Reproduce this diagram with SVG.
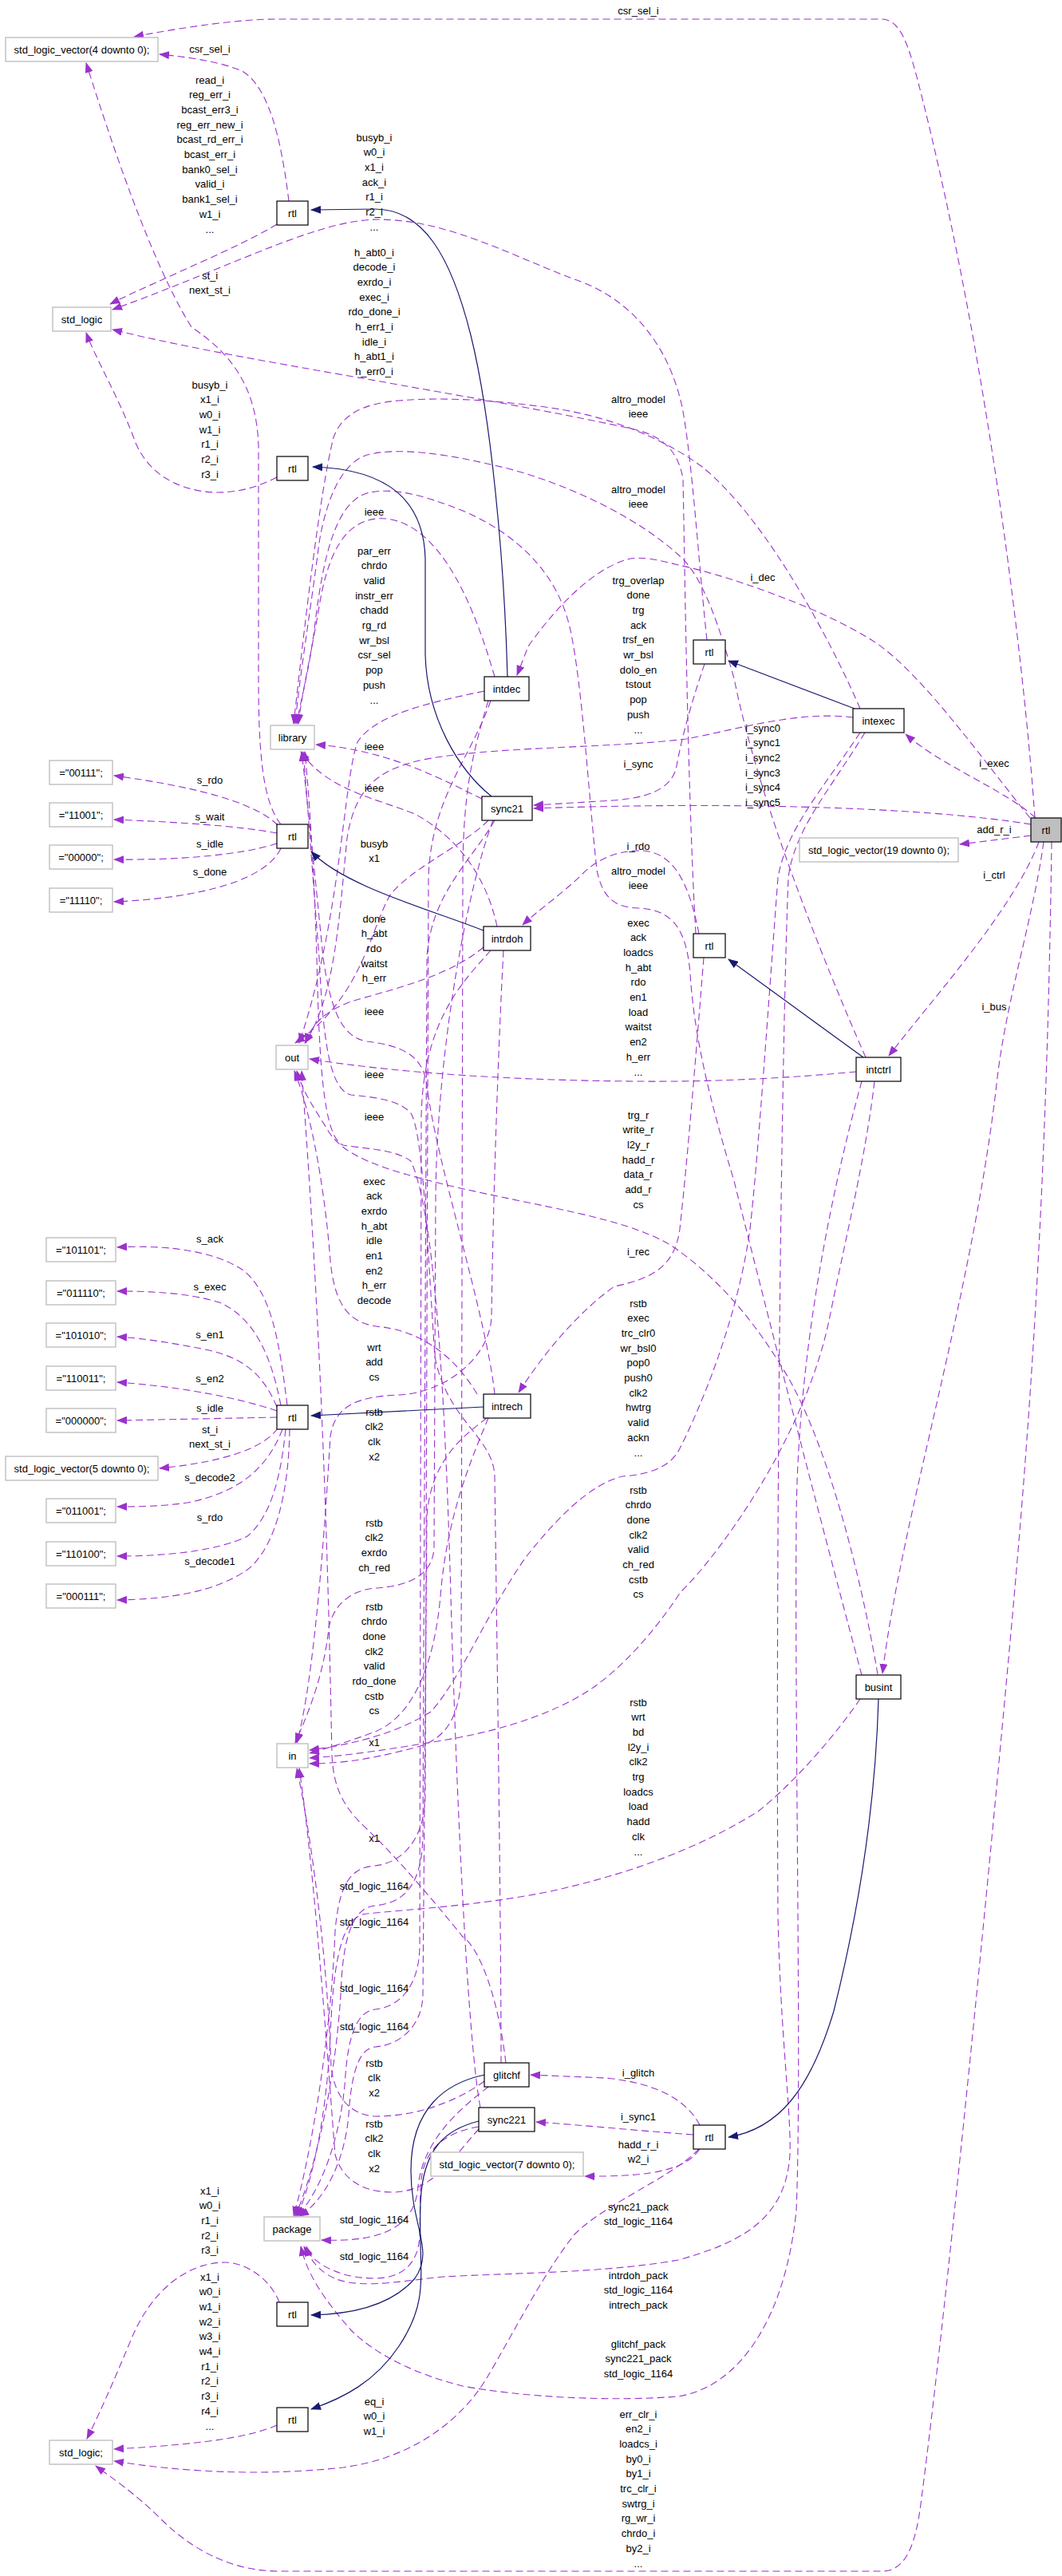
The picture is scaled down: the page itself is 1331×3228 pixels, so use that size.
<svg xmlns="http://www.w3.org/2000/svg" width="1331" height="3228" viewBox="0 0 1331 3228">
<style>
.n rect{fill:#fff;stroke:#000;stroke-width:1.2}
.t rect{fill:#fff;stroke:#bfbfbf;stroke-width:1.4}
.m rect{fill:#bfbfbf;stroke:#000;stroke-width:1.2}
text{font-family:"Liberation Sans",Arial,sans-serif;font-size:13px;fill:#000;text-anchor:middle}
.d{fill:none;stroke:#9a32cd;stroke-width:1.1;stroke-dasharray:9,5;marker-end:url(#ap)}
.b{fill:none;stroke:#191970;stroke-width:1.2;marker-end:url(#ab)}
</style>
<defs>
<marker id="ap" markerUnits="userSpaceOnUse" markerWidth="13" markerHeight="10" viewBox="0 0 13 10" refX="12" refY="5" orient="auto"><path d="M0,0 L13,5 L0,10 z" fill="#9a32cd"/></marker>
<marker id="ab" markerUnits="userSpaceOnUse" markerWidth="13" markerHeight="10" viewBox="0 0 13 10" refX="12" refY="5" orient="auto"><path d="M0,0 L13,5 L0,10 z" fill="#191970"/></marker>
</defs>
<rect x="0" y="0" width="1331" height="3228" fill="#fff"/>
<g id="edges">
<path class="d" d="M1297,1025 C1285,850 1240,450 1150,100 C1138,55 1128,24 1105,24 L345,24 C300,24 230,34 168,46"/>
<path class="d" d="M362,252 C352,170 336,110 305,90 C280,78 240,72 200,68"/>
<path class="d" d="M347,281 C300,310 200,350 138,381"/>
<path class="d" d="M886,802 C875,700 868,580 855,510 C835,420 780,370 720,350 C640,320 560,275 474,275 C400,275 300,330 141,388"/>
<path class="d" d="M872,1170 C862,1000 858,700 856,600 C850,565 830,545 790,537 C700,517 600,500 510,484 C400,464 250,440 141,413"/>
<path class="d" d="M347,598 C320,612 290,620 256,616 C215,610 185,590 170,555 C150,500 120,450 108,417"/>
<path class="d" d="M352,1033 C330,1005 324,950 324,850 L324,560 C322,480 285,440 240,410 C190,330 140,180 108,79"/>
<path class="d" d="M348,1034 C320,1005 240,985 143,972"/>
<path class="d" d="M347,1044 C300,1035 220,1030 143,1027"/>
<path class="d" d="M347,1057 C300,1072 220,1078 143,1077"/>
<path class="d" d="M352,1063 C335,1100 260,1125 143,1130"/>
<path class="d" d="M360,1761 C350,1680 340,1620 305,1592 C265,1565 200,1560 147,1563"/>
<path class="d" d="M352,1761 C340,1700 320,1652 275,1632 C235,1620 190,1618 147,1618"/>
<path class="d" d="M347,1763 C330,1722 305,1702 262,1692 C222,1684 182,1677 147,1675"/>
<path class="d" d="M347,1768 C300,1752 230,1738 147,1732"/>
<path class="d" d="M347,1776 L147,1780"/>
<path class="d" d="M348,1790 C330,1815 280,1832 200,1840"/>
<path class="d" d="M354,1791 C335,1840 300,1870 235,1883 C200,1888 170,1888 147,1888"/>
<path class="d" d="M358,1791 C352,1850 340,1900 310,1925 C270,1945 200,1950 147,1950"/>
<path class="d" d="M363,1791 C362,1870 345,1940 310,1967 C270,1995 210,2004 147,2005"/>
<path class="d" d="M350,2885 C340,2858 310,2835 282,2835 C235,2835 190,2870 165,2930 C140,2990 122,3030 109,3056"/>
<path class="d" d="M347,3039 C310,3055 250,3063 143,3069"/>
<path class="d" d="M876,2693 C840,2730 760,2760 720,2800 C680,2850 640,2930 610,2980 C580,3030 520,3080 430,3092 C330,3103 230,3098 143,3084"/>
<path class="d" d="M877,2693 C860,2718 820,2728 733,2727"/>
<path class="d" d="M877,2663 C860,2630 820,2610 760,2604 L665,2600"/>
<path class="d" d="M869,2675 C800,2670 730,2663 672,2659"/>
<path class="d" d="M883,832 C870,870 855,920 848,960 C842,990 810,1000 768,1003 L669,1009"/>
<path class="d" d="M876,1170 C866,1120 850,1068 805,1066 C770,1065 745,1080 730,1095 C705,1120 675,1140 655,1159"/>
<path class="d" d="M882,1200 C874,1300 862,1450 852,1540 C846,1585 820,1602 770,1612 C730,1640 685,1690 650,1745"/>
<path class="d" d="M1291,1025 C1230,950 1160,850 1100,807 C1030,760 900,718 850,708 C820,700 805,698 790,700 C740,712 690,770 662,810 L648,846"/>
<path class="d" d="M1298,1025 C1260,990 1180,960 1135,920"/>
<path class="d" d="M1292,1033 C1150,1010 900,1005 669,1013"/>
<path class="d" d="M1292,1047 L1203,1058"/>
<path class="d" d="M1302,1055 C1270,1140 1170,1250 1114,1323"/>
<path class="d" d="M1308,1055 C1295,1150 1262,1250 1250,1350 C1220,1620 1130,1900 1106,2097"/>
<path class="d" d="M1318,1055 C1312,1500 1290,1800 1262,2100 C1230,2450 1185,2900 1155,3130 C1148,3190 1135,3222 1105,3222 L350,3222 C290,3222 240,3195 200,3155 C170,3125 140,3105 120,3090"/>
<path class="d" d="M1078,888 C1040,800 960,650 880,585 C830,548 760,520 683,510 C620,502 560,497 500,502 C450,506 428,522 418,548 C400,620 380,800 368,907"/>
<path class="d" d="M1085,1325 C1030,1200 950,1000 920,850 C900,780 880,720 850,695 C800,650 720,610 640,588 C560,568 500,560 460,570 C430,580 410,620 400,680 C390,760 375,850 370,907"/>
<path class="d" d="M1080,2099 C1040,1950 970,1680 920,1480 C890,1380 870,1300 865,1220 C860,1160 840,1140 800,1138 C770,1137 755,1125 748,1090 C738,1000 730,860 715,790 C700,720 650,670 580,640 C530,620 490,610 460,618 C420,630 405,700 395,780 C388,840 376,880 372,907"/>
<path class="d" d="M620,848 C600,780 560,660 485,650 C430,645 410,700 400,760 C390,820 378,870 374,907"/>
<path class="d" d="M604,1001 C560,980 490,940 396,933"/>
<path class="d" d="M623,1161 C610,1100 575,1050 520,1020 C470,1000 410,990 377,942"/>
<path class="d" d="M620,1747 C610,1650 545,1450 535,1360 C530,1320 500,1310 460,1305 C430,1300 415,1270 405,1200 C395,1100 385,1000 378,942"/>
<path class="d" d="M628,2585 C628,2400 622,2000 620,1850 C618,1800 560,1780 545,1700 C535,1550 530,1420 515,1395 C500,1378 470,1375 440,1372 C412,1365 405,1300 400,1200 C392,1100 385,1000 380,942"/>
<path class="d" d="M602,2641 C590,2580 575,2350 565,2000 C558,1750 545,1520 515,1455 C495,1440 460,1440 430,1435 C405,1425 400,1330 397,1200 C394,1100 388,1000 382,942"/>
<path class="d" d="M1069,899 C1000,890 920,915 860,926 C760,938 620,935 530,952 C470,965 445,990 435,1050 C425,1150 420,1250 382,1307"/>
<path class="d" d="M607,866 C540,880 470,895 448,930 C430,980 428,1150 375,1307"/>
<path class="d" d="M612,1028 C580,1060 520,1085 490,1120 C465,1160 455,1250 370,1307"/>
<path class="d" d="M606,1187 C560,1225 490,1240 440,1255 C405,1268 390,1285 383,1307"/>
<path class="d" d="M1073,1343 C1000,1350 900,1356 800,1355 C650,1354 500,1345 388,1327"/>
<path class="d" d="M1100,2098 C1080,1980 1040,1820 990,1730 C950,1660 900,1600 840,1560 C780,1525 680,1513 560,1485 C480,1465 430,1450 410,1415 C395,1390 380,1370 372,1342"/>
<path class="d" d="M598,1747 C570,1700 530,1670 480,1663 C440,1660 420,1640 414,1580 C408,1500 392,1400 369,1342"/>
<path class="d" d="M618,1028 C590,1100 548,1300 546,1500 L544,1940 C542,1975 510,1988 470,1990 C440,1993 418,2010 412,2040 C406,2100 385,2150 370,2184"/>
<path class="d" d="M1078,918 C1030,990 985,1040 975,1100 C960,1300 950,1450 940,1540 C925,1650 880,1760 852,1815 C840,1840 810,1848 780,1850 C740,1860 700,1900 660,1950 C610,2020 580,2100 540,2145 C500,2170 450,2185 388,2193"/>
<path class="d" d="M1096,1355 C1085,1450 1060,1550 1040,1650 C1010,1800 900,1950 853,1995 C820,2045 780,2090 740,2117 C690,2150 620,2170 560,2180 C500,2190 440,2200 388,2203"/>
<path class="d" d="M612,878 C590,950 580,1000 580,1100 L578,2100 C576,2150 560,2180 520,2190 C480,2200 440,2210 388,2210"/>
<path class="d" d="M631,1191 C625,1300 618,1500 616,1650 C614,1700 560,1745 500,1748 C450,1750 420,1760 414,1800 C408,1900 395,2100 372,2184"/>
<path class="d" d="M612,1777 C590,1830 560,1900 552,2000 C545,2080 520,2150 470,2170 C430,2185 405,2192 388,2197"/>
<path class="d" d="M607,2608 C570,2635 520,2652 470,2652 C440,2650 420,2630 415,2590 C410,2450 390,2300 372,2216"/>
<path class="d" d="M600,2668 C570,2700 545,2745 495,2747 C460,2748 430,2735 420,2700 C412,2600 395,2350 375,2216"/>
<path class="d" d="M634,2585 C624,2500 600,2440 580,2427 C550,2390 500,2330 461,2293 C430,2265 418,2240 416,2200 C412,2000 405,1700 378,1342"/>
<path class="d" d="M615,878 C590,950 540,1000 537,1100 L533,2250 C532,2310 500,2335 470,2338 C440,2340 425,2360 420,2420 C415,2550 390,2700 368,2777"/>
<path class="d" d="M620,1028 C590,1080 540,1120 535,1200 L530,2300 C529,2370 500,2385 470,2388 C445,2390 432,2420 428,2480 C423,2600 395,2720 370,2777"/>
<path class="d" d="M615,1191 C580,1230 530,1280 528,1400 L526,2440 C525,2490 500,2515 470,2518 C450,2520 437,2545 433,2600 C428,2680 400,2750 372,2777"/>
<path class="d" d="M610,1777 C580,1800 540,1830 535,1900 L530,2500 C529,2540 500,2563 470,2565 C452,2567 441,2590 437,2650 C432,2710 405,2760 375,2777"/>
<path class="d" d="M612,2615 C580,2640 530,2680 524,2740 C520,2790 480,2810 403,2807"/>
<path class="d" d="M600,2665 C560,2672 530,2690 527,2740 L526,2800 C525,2840 500,2855 470,2855 C430,2855 395,2840 381,2815"/>
<path class="d" d="M1084,918 C1040,990 995,1040 988,1100 C980,1300 972,1900 975,2400 C978,2550 992,2650 990,2700 C985,2780 930,2810 850,2832 C760,2848 650,2848 555,2853 C490,2860 440,2870 410,2850 C395,2840 388,2830 384,2815"/>
<path class="d" d="M1080,1355 C1040,1500 1000,1700 998,1900 C996,2200 1005,2600 998,2770 C985,2900 930,2990 850,3003 C760,3010 650,3003 580,2990 C520,2975 470,2950 440,2920 C405,2880 385,2850 377,2815"/>
<path class="d" d="M1078,2129 C1050,2170 1000,2230 950,2270 C870,2320 780,2350 690,2370 C600,2388 520,2392 460,2398 C430,2400 418,2450 414,2550 C410,2650 390,2740 372,2777"/>
<path class="b" d="M636,848 C632,700 615,520 590,420 C565,320 530,262 470,262 L390,263"/>
<path class="b" d="M616,998 C575,965 535,900 533,820 L533,700 C531,630 490,588 392,585"/>
<path class="b" d="M1071,888 L913,828"/>
<path class="b" d="M606,1166 C540,1140 430,1110 390,1067"/>
<path class="b" d="M1082,1325 L913,1202"/>
<path class="b" d="M606,1763 L390,1774"/>
<path class="b" d="M1101,2129 C1096,2300 1065,2440 1045,2520 C1015,2620 975,2668 913,2678"/>
<path class="b" d="M607,2600 C560,2610 515,2640 515,2720 C515,2790 545,2820 520,2855 C490,2890 440,2900 390,2901"/>
<path class="b" d="M600,2658 C560,2668 530,2690 527,2760 C524,2850 540,2880 500,2940 C470,2985 430,3005 390,3019"/>
</g>
<g id="edge-labels">
<text x="800" y="17.5">csr_sel_i</text>
<text x="263" y="65.5">csr_sel_i</text>
<text x="263" y="104.5"><tspan x="263">read_i</tspan><tspan x="263" dy="18.7">reg_err_i</tspan><tspan x="263" dy="18.7">bcast_err3_i</tspan><tspan x="263" dy="18.7">reg_err_new_i</tspan><tspan x="263" dy="18.7">bcast_rd_err_i</tspan><tspan x="263" dy="18.7">bcast_err_i</tspan><tspan x="263" dy="18.7">bank0_sel_i</tspan><tspan x="263" dy="18.7">valid_i</tspan><tspan x="263" dy="18.7">bank1_sel_i</tspan><tspan x="263" dy="18.7">w1_i</tspan><tspan x="263" dy="18.7">...</tspan></text>
<text x="263" y="349.5"><tspan x="263">st_i</tspan><tspan x="263" dy="18.7">next_st_i</tspan></text>
<text x="263" y="486.5"><tspan x="263">busyb_i</tspan><tspan x="263" dy="18.7">x1_i</tspan><tspan x="263" dy="18.7">w0_i</tspan><tspan x="263" dy="18.7">w1_i</tspan><tspan x="263" dy="18.7">r1_i</tspan><tspan x="263" dy="18.7">r2_i</tspan><tspan x="263" dy="18.7">r3_i</tspan></text>
<text x="263" y="981.5">s_rdo</text>
<text x="263" y="1027.5">s_wait</text>
<text x="263" y="1061.5">s_idle</text>
<text x="263" y="1096.5">s_done</text>
<text x="263" y="1556.5">s_ack</text>
<text x="263" y="1616.5">s_exec</text>
<text x="263" y="1676.5">s_en1</text>
<text x="263" y="1731.5">s_en2</text>
<text x="263" y="1768.5">s_idle</text>
<text x="263" y="1795.5"><tspan x="263">st_i</tspan><tspan x="263" dy="18.7">next_st_i</tspan></text>
<text x="263" y="1855.5">s_decode2</text>
<text x="263" y="1905.5">s_rdo</text>
<text x="263" y="1960.5">s_decode1</text>
<text x="263" y="2749.5"><tspan x="263">x1_i</tspan><tspan x="263" dy="18.7">w0_i</tspan><tspan x="263" dy="18.7">r1_i</tspan><tspan x="263" dy="18.7">r2_i</tspan><tspan x="263" dy="18.7">r3_i</tspan></text>
<text x="263" y="2857.5"><tspan x="263">x1_i</tspan><tspan x="263" dy="18.7">w0_i</tspan><tspan x="263" dy="18.7">w1_i</tspan><tspan x="263" dy="18.7">w2_i</tspan><tspan x="263" dy="18.7">w3_i</tspan><tspan x="263" dy="18.7">w4_i</tspan><tspan x="263" dy="18.7">r1_i</tspan><tspan x="263" dy="18.7">r2_i</tspan><tspan x="263" dy="18.7">r3_i</tspan><tspan x="263" dy="18.7">r4_i</tspan><tspan x="263" dy="18.7">...</tspan></text>
<text x="469" y="176.5"><tspan x="469">busyb_i</tspan><tspan x="469" dy="18.7">w0_i</tspan><tspan x="469" dy="18.7">x1_i</tspan><tspan x="469" dy="18.7">ack_i</tspan><tspan x="469" dy="18.7">r1_i</tspan><tspan x="469" dy="18.7">r2_i</tspan><tspan x="469" dy="18.7">...</tspan></text>
<text x="469" y="320.5"><tspan x="469">h_abt0_i</tspan><tspan x="469" dy="18.7">decode_i</tspan><tspan x="469" dy="18.7">exrdo_i</tspan><tspan x="469" dy="18.7">exec_i</tspan><tspan x="469" dy="18.7">rdo_done_i</tspan><tspan x="469" dy="18.7">h_err1_i</tspan><tspan x="469" dy="18.7">idle_i</tspan><tspan x="469" dy="18.7">h_abt1_i</tspan><tspan x="469" dy="18.7">h_err0_i</tspan></text>
<text x="469" y="645.5">ieee</text>
<text x="469" y="694.5"><tspan x="469">par_err</tspan><tspan x="469" dy="18.7">chrdo</tspan><tspan x="469" dy="18.7">valid</tspan><tspan x="469" dy="18.7">instr_err</tspan><tspan x="469" dy="18.7">chadd</tspan><tspan x="469" dy="18.7">rg_rd</tspan><tspan x="469" dy="18.7">wr_bsl</tspan><tspan x="469" dy="18.7">csr_sel</tspan><tspan x="469" dy="18.7">pop</tspan><tspan x="469" dy="18.7">push</tspan><tspan x="469" dy="18.7">...</tspan></text>
<text x="469" y="939.5">ieee</text>
<text x="469" y="991.5">ieee</text>
<text x="469" y="1061.5"><tspan x="469">busyb</tspan><tspan x="469" dy="18.7">x1</tspan></text>
<text x="469" y="1155.5"><tspan x="469">done</tspan><tspan x="469" dy="18.7">h_abt</tspan><tspan x="469" dy="18.7">rdo</tspan><tspan x="469" dy="18.7">waitst</tspan><tspan x="469" dy="18.7">h_err</tspan></text>
<text x="469" y="1271.5">ieee</text>
<text x="469" y="1350.5">ieee</text>
<text x="469" y="1403.5">ieee</text>
<text x="469" y="1484.5"><tspan x="469">exec</tspan><tspan x="469" dy="18.7">ack</tspan><tspan x="469" dy="18.7">exrdo</tspan><tspan x="469" dy="18.7">h_abt</tspan><tspan x="469" dy="18.7">idle</tspan><tspan x="469" dy="18.7">en1</tspan><tspan x="469" dy="18.7">en2</tspan><tspan x="469" dy="18.7">h_err</tspan><tspan x="469" dy="18.7">decode</tspan></text>
<text x="469" y="1692.5"><tspan x="469">wrt</tspan><tspan x="469" dy="18.7">add</tspan><tspan x="469" dy="18.7">cs</tspan></text>
<text x="469" y="1773.5"><tspan x="469">rstb</tspan><tspan x="469" dy="18.7">clk2</tspan><tspan x="469" dy="18.7">clk</tspan><tspan x="469" dy="18.7">x2</tspan></text>
<text x="469" y="1912.5"><tspan x="469">rstb</tspan><tspan x="469" dy="18.7">clk2</tspan><tspan x="469" dy="18.7">exrdo</tspan><tspan x="469" dy="18.7">ch_red</tspan></text>
<text x="469" y="2017.5"><tspan x="469">rstb</tspan><tspan x="469" dy="18.7">chrdo</tspan><tspan x="469" dy="18.7">done</tspan><tspan x="469" dy="18.7">clk2</tspan><tspan x="469" dy="18.7">valid</tspan><tspan x="469" dy="18.7">rdo_done</tspan><tspan x="469" dy="18.7">cstb</tspan><tspan x="469" dy="18.7">cs</tspan></text>
<text x="469" y="2187.5">x1</text>
<text x="469" y="2307.5">x1</text>
<text x="469" y="2367.5">std_logic_1164</text>
<text x="469" y="2412.5">std_logic_1164</text>
<text x="469" y="2495.5">std_logic_1164</text>
<text x="469" y="2543.5">std_logic_1164</text>
<text x="469" y="2589.5"><tspan x="469">rstb</tspan><tspan x="469" dy="18.7">clk</tspan><tspan x="469" dy="18.7">x2</tspan></text>
<text x="469" y="2665.5"><tspan x="469">rstb</tspan><tspan x="469" dy="18.7">clk2</tspan><tspan x="469" dy="18.7">clk</tspan><tspan x="469" dy="18.7">x2</tspan></text>
<text x="469" y="2785.5">std_logic_1164</text>
<text x="469" y="2831.5">std_logic_1164</text>
<text x="469" y="3013.5"><tspan x="469">eq_i</tspan><tspan x="469" dy="18.7">w0_i</tspan><tspan x="469" dy="18.7">w1_i</tspan></text>
<text x="800" y="504.5"><tspan x="800">altro_model</tspan><tspan x="800" dy="18.7">ieee</tspan></text>
<text x="800" y="617.5"><tspan x="800">altro_model</tspan><tspan x="800" dy="18.7">ieee</tspan></text>
<text x="800" y="731.5"><tspan x="800">trg_overlap</tspan><tspan x="800" dy="18.7">done</tspan><tspan x="800" dy="18.7">trg</tspan><tspan x="800" dy="18.7">ack</tspan><tspan x="800" dy="18.7">trsf_en</tspan><tspan x="800" dy="18.7">wr_bsl</tspan><tspan x="800" dy="18.7">dolo_en</tspan><tspan x="800" dy="18.7">tstout</tspan><tspan x="800" dy="18.7">pop</tspan><tspan x="800" dy="18.7">push</tspan><tspan x="800" dy="18.7">...</tspan></text>
<text x="800" y="961.5">i_sync</text>
<text x="800" y="1064.5">i_rdo</text>
<text x="800" y="1095.5"><tspan x="800">altro_model</tspan><tspan x="800" dy="18.7">ieee</tspan></text>
<text x="800" y="1160.5"><tspan x="800">exec</tspan><tspan x="800" dy="18.7">ack</tspan><tspan x="800" dy="18.7">loadcs</tspan><tspan x="800" dy="18.7">h_abt</tspan><tspan x="800" dy="18.7">rdo</tspan><tspan x="800" dy="18.7">en1</tspan><tspan x="800" dy="18.7">load</tspan><tspan x="800" dy="18.7">waitst</tspan><tspan x="800" dy="18.7">en2</tspan><tspan x="800" dy="18.7">h_err</tspan><tspan x="800" dy="18.7">...</tspan></text>
<text x="800" y="1401.5"><tspan x="800">trg_r</tspan><tspan x="800" dy="18.7">write_r</tspan><tspan x="800" dy="18.7">l2y_r</tspan><tspan x="800" dy="18.7">hadd_r</tspan><tspan x="800" dy="18.7">data_r</tspan><tspan x="800" dy="18.7">add_r</tspan><tspan x="800" dy="18.7">cs</tspan></text>
<text x="800" y="1572.5">i_rec</text>
<text x="800" y="1637.5"><tspan x="800">rstb</tspan><tspan x="800" dy="18.7">exec</tspan><tspan x="800" dy="18.7">trc_clr0</tspan><tspan x="800" dy="18.7">wr_bsl0</tspan><tspan x="800" dy="18.7">pop0</tspan><tspan x="800" dy="18.7">push0</tspan><tspan x="800" dy="18.7">clk2</tspan><tspan x="800" dy="18.7">hwtrg</tspan><tspan x="800" dy="18.7">valid</tspan><tspan x="800" dy="18.7">ackn</tspan><tspan x="800" dy="18.7">...</tspan></text>
<text x="800" y="1871.5"><tspan x="800">rstb</tspan><tspan x="800" dy="18.7">chrdo</tspan><tspan x="800" dy="18.7">done</tspan><tspan x="800" dy="18.7">clk2</tspan><tspan x="800" dy="18.7">valid</tspan><tspan x="800" dy="18.7">ch_red</tspan><tspan x="800" dy="18.7">cstb</tspan><tspan x="800" dy="18.7">cs</tspan></text>
<text x="800" y="2137.5"><tspan x="800">rstb</tspan><tspan x="800" dy="18.7">wrt</tspan><tspan x="800" dy="18.7">bd</tspan><tspan x="800" dy="18.7">l2y_i</tspan><tspan x="800" dy="18.7">clk2</tspan><tspan x="800" dy="18.7">trg</tspan><tspan x="800" dy="18.7">loadcs</tspan><tspan x="800" dy="18.7">load</tspan><tspan x="800" dy="18.7">hadd</tspan><tspan x="800" dy="18.7">clk</tspan><tspan x="800" dy="18.7">...</tspan></text>
<text x="800" y="2601.5">i_glitch</text>
<text x="800" y="2656.5">i_sync1</text>
<text x="800" y="2691.5"><tspan x="800">hadd_r_i</tspan><tspan x="800" dy="18.7">w2_i</tspan></text>
<text x="800" y="2769.5"><tspan x="800">sync21_pack</tspan><tspan x="800" dy="18.7">std_logic_1164</tspan></text>
<text x="800" y="2855.5"><tspan x="800">intrdoh_pack</tspan><tspan x="800" dy="18.7">std_logic_1164</tspan><tspan x="800" dy="18.7">intrech_pack</tspan></text>
<text x="800" y="2941.5"><tspan x="800">glitchf_pack</tspan><tspan x="800" dy="18.7">sync221_pack</tspan><tspan x="800" dy="18.7">std_logic_1164</tspan></text>
<text x="800" y="3029.5"><tspan x="800">err_clr_i</tspan><tspan x="800" dy="18.7">en2_i</tspan><tspan x="800" dy="18.7">loadcs_i</tspan><tspan x="800" dy="18.7">by0_i</tspan><tspan x="800" dy="18.7">by1_i</tspan><tspan x="800" dy="18.7">trc_clr_i</tspan><tspan x="800" dy="18.7">swtrg_i</tspan><tspan x="800" dy="18.7">rg_wr_i</tspan><tspan x="800" dy="18.7">chrdo_i</tspan><tspan x="800" dy="18.7">by2_i</tspan><tspan x="800" dy="18.7">...</tspan></text>
<text x="956" y="727.5">i_dec</text>
<text x="956" y="916.5"><tspan x="956">i_sync0</tspan><tspan x="956" dy="18.7">i_sync1</tspan><tspan x="956" dy="18.7">i_sync2</tspan><tspan x="956" dy="18.7">i_sync3</tspan><tspan x="956" dy="18.7">i_sync4</tspan><tspan x="956" dy="18.7">i_sync5</tspan></text>
<text x="1246" y="960.5">i_exec</text>
<text x="1246" y="1043.5">add_r_i</text>
<text x="1246" y="1100.5">i_ctrl</text>
<text x="1246" y="1265.5">i_bus</text>
</g>
<g id="node_slv4" class="t"><rect x="7" y="47" width="191" height="30"/><text x="102.5" y="66.5">std_logic_vector(4 downto 0);</text></g>
<g id="node_rtl_intdec" class="n"><rect x="347" y="252" width="39" height="30"/><text x="366.5" y="271.5">rtl</text></g>
<g id="node_std_logic" class="t"><rect x="66" y="385" width="73" height="30"/><text x="102.5" y="404.5">std_logic</text></g>
<g id="node_rtl_sync21" class="n"><rect x="347" y="572" width="39" height="30"/><text x="366.5" y="591.5">rtl</text></g>
<g id="node_library" class="t"><rect x="339" y="909" width="55" height="30"/><text x="366.5" y="928.5">library</text></g>
<g id="node_intdec" class="n"><rect x="607" y="848" width="56" height="30"/><text x="635" y="867.5">intdec</text></g>
<g id="node_rtl_intexec" class="n"><rect x="869" y="802" width="40" height="30"/><text x="889" y="821.5">rtl</text></g>
<g id="node_intexec" class="n"><rect x="1069" y="888" width="64" height="30"/><text x="1101" y="907.5">intexec</text></g>
<g id="node_c00111" class="t"><rect x="62" y="953" width="79" height="30"/><text x="101.5" y="972.5">="00111";</text></g>
<g id="node_c11001" class="t"><rect x="62" y="1006" width="79" height="30"/><text x="101.5" y="1025.5">="11001";</text></g>
<g id="node_c00000" class="t"><rect x="62" y="1059" width="79" height="30"/><text x="101.5" y="1078.5">="00000";</text></g>
<g id="node_c11110" class="t"><rect x="62" y="1113" width="79" height="30"/><text x="101.5" y="1132.5">="11110";</text></g>
<g id="node_rtl_intrdoh" class="n"><rect x="347" y="1033" width="39" height="30"/><text x="366.5" y="1052.5">rtl</text></g>
<g id="node_sync21" class="n"><rect x="604" y="998" width="63" height="30"/><text x="635.5" y="1017.5">sync21</text></g>
<g id="node_rtl_main" class="m"><rect x="1292" y="1025" width="38" height="30"/><text x="1311" y="1044.5">rtl</text></g>
<g id="node_slv19" class="t"><rect x="1002" y="1050" width="199" height="30"/><text x="1101.5" y="1069.5">std_logic_vector(19 downto 0);</text></g>
<g id="node_intrdoh" class="n"><rect x="606" y="1161" width="59" height="30"/><text x="635.5" y="1180.5">intrdoh</text></g>
<g id="node_rtl_intctrl" class="n"><rect x="869" y="1170" width="40" height="30"/><text x="889" y="1189.5">rtl</text></g>
<g id="node_out" class="t"><rect x="346" y="1310" width="40" height="30"/><text x="366" y="1329.5">out</text></g>
<g id="node_intctrl" class="n"><rect x="1073" y="1325" width="56" height="30"/><text x="1101" y="1344.5">intctrl</text></g>
<g id="node_c101101" class="t"><rect x="58" y="1551" width="87" height="30"/><text x="101.5" y="1570.5">="101101";</text></g>
<g id="node_c011110" class="t"><rect x="58" y="1605" width="87" height="30"/><text x="101.5" y="1624.5">="011110";</text></g>
<g id="node_c101010" class="t"><rect x="58" y="1658" width="87" height="30"/><text x="101.5" y="1677.5">="101010";</text></g>
<g id="node_c110011" class="t"><rect x="58" y="1712" width="87" height="30"/><text x="101.5" y="1731.5">="110011";</text></g>
<g id="node_c000000" class="t"><rect x="58" y="1765" width="87" height="30"/><text x="101.5" y="1784.5">="000000";</text></g>
<g id="node_slv5" class="t"><rect x="7" y="1825" width="191" height="30"/><text x="102.5" y="1844.5">std_logic_vector(5 downto 0);</text></g>
<g id="node_c011001" class="t"><rect x="58" y="1878" width="87" height="30"/><text x="101.5" y="1897.5">="011001";</text></g>
<g id="node_c110100" class="t"><rect x="58" y="1932" width="87" height="30"/><text x="101.5" y="1951.5">="110100";</text></g>
<g id="node_c000111" class="t"><rect x="58" y="1985" width="87" height="30"/><text x="101.5" y="2004.5">="000111";</text></g>
<g id="node_rtl_intrech" class="n"><rect x="347" y="1761" width="39" height="30"/><text x="366.5" y="1780.5">rtl</text></g>
<g id="node_intrech" class="n"><rect x="606" y="1747" width="59" height="30"/><text x="635.5" y="1766.5">intrech</text></g>
<g id="node_busint" class="n"><rect x="1073" y="2099" width="56" height="30"/><text x="1101" y="2118.5">busint</text></g>
<g id="node_in" class="t"><rect x="347" y="2185" width="39" height="30"/><text x="366.5" y="2204.5">in</text></g>
<g id="node_glitchf" class="n"><rect x="607" y="2585" width="56" height="30"/><text x="635" y="2604.5">glitchf</text></g>
<g id="node_sync221" class="n"><rect x="600" y="2641" width="70" height="30"/><text x="635" y="2660.5">sync221</text></g>
<g id="node_rtl_busint" class="n"><rect x="869" y="2663" width="40" height="30"/><text x="889" y="2682.5">rtl</text></g>
<g id="node_slv7" class="t"><rect x="540" y="2697" width="191" height="30"/><text x="635.5" y="2716.5">std_logic_vector(7 downto 0);</text></g>
<g id="node_package" class="t"><rect x="331" y="2778" width="70" height="30"/><text x="366" y="2797.5">package</text></g>
<g id="node_rtl_glitchf" class="n"><rect x="347" y="2885" width="39" height="30"/><text x="366.5" y="2904.5">rtl</text></g>
<g id="node_rtl_sync221" class="n"><rect x="347" y="3017" width="39" height="30"/><text x="366.5" y="3036.5">rtl</text></g>
<g id="node_std_logic_semi" class="t"><rect x="62" y="3058" width="79" height="30"/><text x="101.5" y="3077.5">std_logic;</text></g>
</svg>
